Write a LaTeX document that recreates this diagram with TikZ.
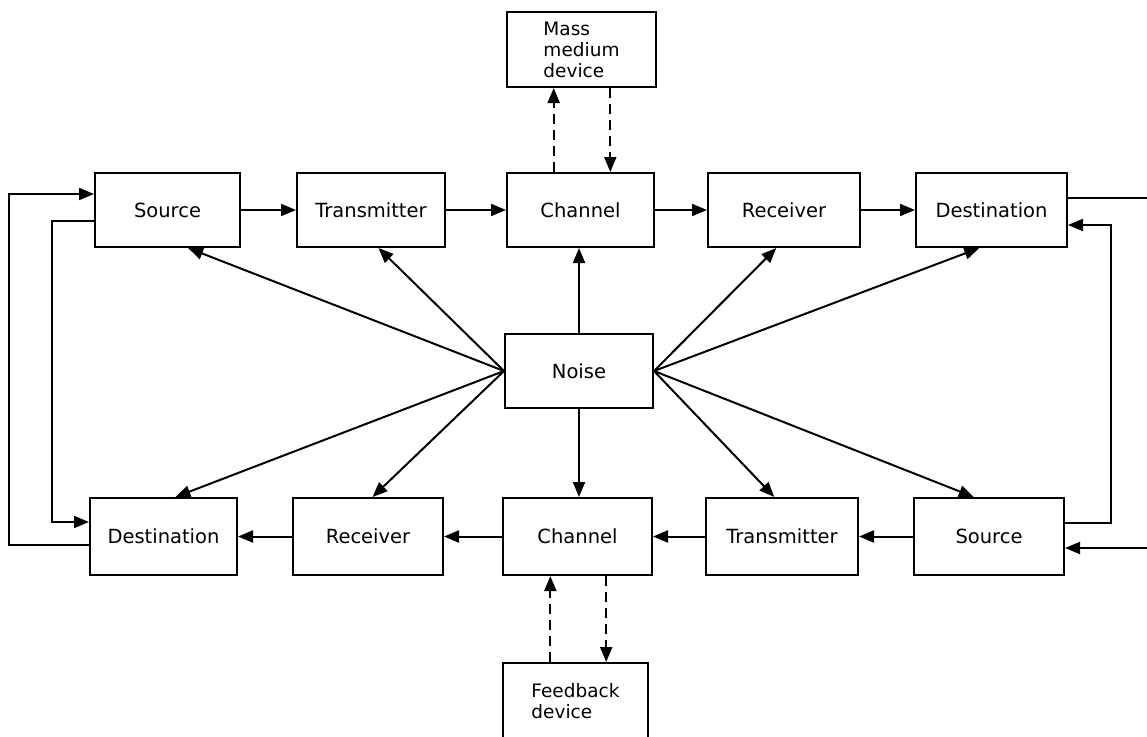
\documentclass[tikz,border=0pt]{standalone}
\usepackage{fontspec}
\setmainfont{DejaVu Sans}
\usetikzlibrary{arrows.meta,calc}
\begin{document}
\begin{tikzpicture}[x=1pt,y=-1pt,
  box/.style={draw, line width=2pt, rectangle, minimum height=74pt, inner sep=0pt,
    font=\fontsize{19.5}{23}\selectfont},
  smallbox/.style={box, font=\fontsize{18.5}{21}\selectfont, align=left},
  arr/.style={line width=2pt, -{Triangle[length=15pt,width=12pt]}},
  dsh/.style={arr, dash pattern=on 10pt off 6pt},
  ln/.style={line width=2pt}]
\useasboundingbox (0,0) rectangle (1147,736);
% top row
\node[box, minimum width=145pt] (srcT) at (167.5,210) {Source};
\node[box, minimum width=148pt] (trT) at (371,210) {Transmitter};
\node[box, minimum width=147pt] (chT) at (580.5,210) {Channel};
\node[box, minimum width=152pt] (rcT) at (784,210) {Receiver};
\node[box, minimum width=151pt] (dsT) at (991.5,210) {Destination};
% bottom row
\node[box, minimum width=147pt, minimum height=77pt] (dsB) at (163.5,536.5) {Destination};
\node[box, minimum width=150pt, minimum height=77pt] (rcB) at (368,536.5) {Receiver};
\node[box, minimum width=149pt, minimum height=77pt] (chB) at (577.5,536.5) {Channel};
\node[box, minimum width=152pt, minimum height=77pt] (trB) at (782,536.5) {Transmitter};
\node[box, minimum width=150pt, minimum height=77pt] (srB) at (989,536.5) {Source};
% centre
\node[box, minimum width=148pt] (noise) at (579,371) {Noise};
\node[smallbox, minimum width=149pt, minimum height=75pt] (mass) at (581.5,49.5) {Mass\\medium\\device};
\node[smallbox, minimum width=145pt, minimum height=76pt] (fb) at (575.5,701) {Feedback\\device};
% flow arrows
\draw[arr] (srcT) -- (trT);
\draw[arr] (trT) -- (chT);
\draw[arr] (chT) -- (rcT);
\draw[arr] (rcT) -- (dsT);
\draw[arr] (srB) -- (trB);
\draw[arr] (trB) -- (chB);
\draw[arr] (chB) -- (rcB);
\draw[arr] (rcB) -- (dsB);
% noise arrows
\draw[arr] (noise.west) -- ($(srcT.south west)!0.64!(srcT.south east)$);
\draw[arr] (noise.west) -- ($(trT.south west)!0.55!(trT.south east)$);
\draw[arr] (noise.west) -- ($(dsB.north west)!0.58!(dsB.north east)$);
\draw[arr] (noise.west) -- ($(rcB.north west)!0.53!(rcB.north east)$);
\draw[arr] (noise.east) -- ($(rcT.south west)!0.45!(rcT.south east)$);
\draw[arr] (noise.east) -- ($(dsT.south west)!0.42!(dsT.south east)$);
\draw[arr] (noise.east) -- ($(trB.north west)!0.45!(trB.north east)$);
\draw[arr] (noise.east) -- ($(srB.north west)!0.40!(srB.north east)$);
\draw[arr] (noise.north) -- (noise.north |- chT.south);
\draw[arr] (noise.south) -- (noise.south |- chB.north);
% dashed links
\coordinate (mu) at ($(chT.north west)!0.32!(chT.north east)$);
\coordinate (md) at ($(chT.north west)!0.70!(chT.north east)$);
\draw[dsh] (mu) -- (mu |- mass.south);
\draw[dsh] (md |- mass.south) -- (md);
\coordinate (fu) at ($(chB.south west)!0.32!(chB.south east)$);
\coordinate (fd) at ($(chB.south west)!0.69!(chB.south east)$);
\draw[dsh] (fu |- fb.north) -- (fu);
\draw[dsh] (fd) -- (fd |- fb.north);
% left loops
\draw[arr] ($(srcT.west)+(0,11)$) -- ++(-42,0) |- ($(dsB.west)+(0,-14.5)$);
\draw[arr] ($(dsB.west)+(0,8.5)$) -- ++(-80,0) |- ($(srcT.west)+(0,-16)$);
% right loops
\draw[ln] ($(dsT.east)+(0,-12)$) -- ++(95,0);
\draw[arr] ($(srB.east)+(0,-13.5)$) -- ++(46,0) |- ($(dsT.east)+(0,15)$);
\draw[arr] ($(srB.east)+(95,11.5)$) -- ($(srB.east)+(0,11.5)$);
\end{tikzpicture}
\end{document}
